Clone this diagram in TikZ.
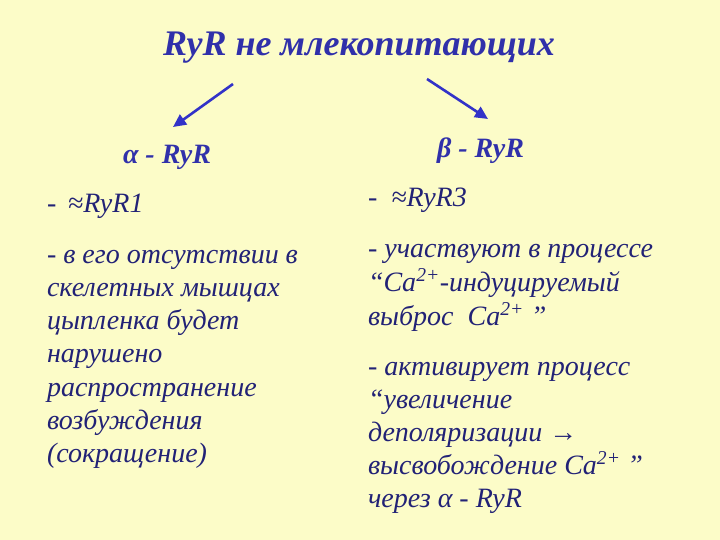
\documentclass[tikz,border=0pt]{standalone}
\usepackage{fontspec}
\setmainfont{Liberation Serif}
\usetikzlibrary{arrows.meta}
\definecolor{bg}{RGB}{252,252,200}
\definecolor{ttl}{RGB}{48,48,170}
\definecolor{txt}{RGB}{34,34,118}
\definecolor{arr}{RGB}{50,50,200}
\newcommand{\sups}[1]{\textsuperscript{#1}}
\tikzset{
  ln/.style={anchor=base west, inner sep=0pt, outer sep=0pt, text=txt, font=\fontsize{28}{32}\selectfont\itshape},
  hd/.style={anchor=base west, inner sep=0pt, outer sep=0pt, text=ttl, font=\fontsize{28}{32}\selectfont\bfseries\itshape},
  arrowline/.style={draw=arr, line width=2.6pt, -{Triangle[length=13pt,width=12pt]}}
}
\begin{document}
\begin{tikzpicture}[x=1pt,y=-1pt]
\fill[bg] (0,0) rectangle (720,540);
\useasboundingbox (0,0) rectangle (720,540);
\node[anchor=base west, inner sep=0pt, text=ttl, font=\fontsize{36}{40}\selectfont\bfseries\itshape] (title) at (163,56) {RyR не млекопитающих};
\coordinate (a1s) at (233,84);
\coordinate (a1e) at (173,127);
\coordinate (a2s) at (427,79);
\coordinate (a2e) at (488,119);
\draw[arrowline] (a1s) -- (a1e);
\draw[arrowline] (a2s) -- (a2e);
\node[hd] (ha) at (123,164) {α - RyR};
\node[hd] (hb) at (437,158) {β - RyR};
\node[ln] (l1) at (47,213) {- \,≈RyR1};
\node[ln] (l2) at (47,263) {- в его отсутствии в};
\node[ln] (l3) at (47,296) {скелетных мышцах};
\node[ln] (l4) at (47,329) {цыпленка будет};
\node[ln] (l5) at (47,362) {нарушено};
\node[ln] (l6) at (47,396) {распространение};
\node[ln] (l7) at (47,429) {возбуждения};
\node[ln] (l8) at (47,462) {(сокращение)};
\node[ln] (r1) at (368,207) {- \ ≈RyR3};
\node[ln] (r2) at (368,258) {- участвуют в процессе};
\node[ln] (r3) at (368,291) {“Ca\sups{2+}-индуцируемый};
\node[ln] (r4) at (368,325) {выброс\ \ Ca\sups{2+} ”};
\node[ln] (r5) at (368,375) {- активирует процесс};
\node[ln] (r6) at (368,408) {“увеличение};
\node[ln] (r7) at (368,441) {деполяризации →};
\node[ln] (r8) at (368,474) {высвобождение Ca\sups{2+} ”};
\node[ln] (r9) at (368,507) {через α - RyR};
\end{tikzpicture}
\end{document}
